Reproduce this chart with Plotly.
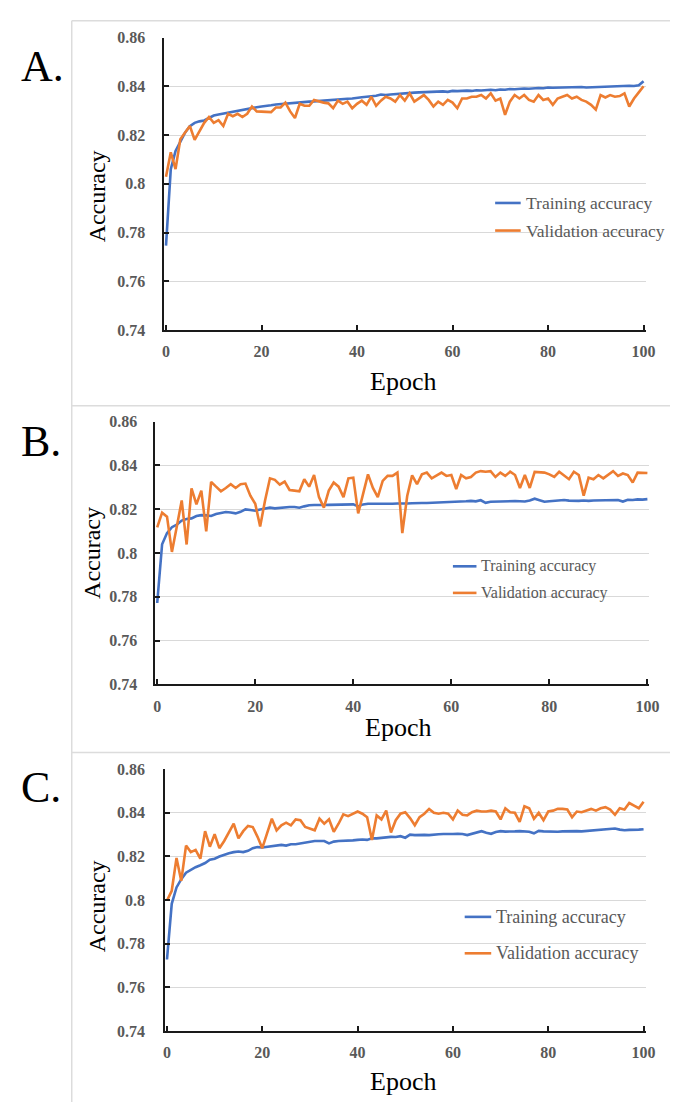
import plotly.graph_objects as go

# ---------------- data ----------------
epochs = list(range(101))

train_a = [0.7746, 0.806, 0.8135, 0.8176, 0.821, 0.8236, 0.825, 0.8256, 0.826, 0.827,
           0.828, 0.8284, 0.8288, 0.8293, 0.8296, 0.83, 0.8302, 0.8306, 0.831, 0.8314,
           0.8317, 0.8318, 0.8322, 0.8325, 0.8327, 0.8328, 0.8329, 0.8331, 0.8332, 0.8335,
           0.8337, 0.8338, 0.834, 0.8341, 0.8343, 0.8344, 0.8346, 0.8347, 0.8349, 0.835,
           0.8354, 0.8355, 0.8357, 0.8358, 0.8361, 0.8366, 0.8364, 0.8366, 0.8368, 0.837,
           0.8373, 0.8372, 0.8374, 0.8375, 0.8376, 0.8377, 0.8376, 0.8378, 0.8379, 0.8377,
           0.8381, 0.838, 0.8382, 0.8382, 0.8381, 0.8384, 0.8383, 0.8385, 0.8386, 0.8384,
           0.8387, 0.8386, 0.8389, 0.8388, 0.839, 0.8391, 0.839, 0.8392, 0.8393, 0.8392,
           0.8395, 0.8394, 0.8395, 0.8394, 0.8396, 0.8395, 0.8396, 0.8397, 0.8395, 0.8396,
           0.8397, 0.8398, 0.8397, 0.8399, 0.84, 0.8399, 0.8401, 0.8402, 0.8401, 0.8404,
           0.8421]

val_a = [0.8029, 0.8129, 0.806, 0.8183, 0.821, 0.8237, 0.818, 0.8216, 0.825, 0.8274,
         0.825, 0.8261, 0.8237, 0.8287, 0.8277, 0.8287, 0.8274, 0.8287, 0.8317, 0.8297,
         0.8297, 0.8297, 0.8294, 0.8313, 0.8313, 0.8333, 0.8297, 0.827, 0.8328, 0.832,
         0.832, 0.8344, 0.8337, 0.8333, 0.833, 0.831, 0.8341, 0.8328, 0.8337, 0.831,
         0.8328, 0.8341, 0.8324, 0.8357, 0.832, 0.8341, 0.8357, 0.835, 0.8337, 0.8364,
         0.8341, 0.8371, 0.8337, 0.835, 0.8364, 0.8344, 0.8317, 0.8337, 0.8324, 0.8344,
         0.8333, 0.831, 0.835, 0.835, 0.8357, 0.8357, 0.8364, 0.835, 0.8371, 0.8341,
         0.835, 0.8283, 0.8337, 0.8364, 0.835, 0.8364, 0.8344, 0.8337, 0.8364, 0.8344,
         0.835, 0.8324, 0.835, 0.8357, 0.8364, 0.835, 0.8357, 0.8344, 0.8337, 0.8324,
         0.8304, 0.8364, 0.8354, 0.8364, 0.8357, 0.836, 0.8371, 0.8317, 0.835, 0.8375,
         0.84]

train_b = [0.7772, 0.804, 0.8091, 0.8118, 0.8129, 0.8148, 0.8155, 0.8158, 0.8169, 0.8173,
           0.8172, 0.8169, 0.8178, 0.8184, 0.8187, 0.8185, 0.8181, 0.8188, 0.8199, 0.8196,
           0.8193, 0.8199, 0.8203, 0.8207, 0.8204, 0.8207, 0.8207, 0.821, 0.821, 0.8207,
           0.8213, 0.8218, 0.8219, 0.8218, 0.8219, 0.822, 0.8221, 0.8222, 0.8222, 0.8221,
           0.8222, 0.8213, 0.8222, 0.8225, 0.8225, 0.8222, 0.8222, 0.8224, 0.8225, 0.8226,
           0.8225, 0.8226, 0.8227, 0.8226, 0.8228, 0.8228, 0.8229, 0.8228, 0.823, 0.8229,
           0.8231, 0.8233, 0.8235, 0.8236, 0.8238, 0.8236, 0.8241, 0.8229, 0.8234, 0.8235,
           0.8236, 0.8237, 0.8238, 0.8237, 0.8236, 0.8235, 0.824, 0.8248, 0.8241, 0.8234,
           0.8236, 0.8239, 0.8241, 0.8242, 0.8239, 0.8237, 0.8238, 0.824, 0.8238, 0.824,
           0.8241, 0.824, 0.8242, 0.8243, 0.8242, 0.8235, 0.8243, 0.8242, 0.8245, 0.8244,
           0.8246]

val_b = [0.8117, 0.8184, 0.8166, 0.8005, 0.8121, 0.824, 0.8039, 0.8295, 0.8222, 0.8285,
         0.8099, 0.8325, 0.8303, 0.8282, 0.8297, 0.8314, 0.8297, 0.8314, 0.8317, 0.8262,
         0.8225, 0.8121, 0.824, 0.8341, 0.8334, 0.8312, 0.8326, 0.8288, 0.8285, 0.8282,
         0.8337, 0.8303, 0.8356, 0.8255, 0.8207, 0.8285, 0.8322, 0.8303, 0.8255, 0.8341,
         0.8344, 0.8181, 0.827, 0.8359, 0.8297, 0.8255, 0.8329, 0.8352, 0.8352, 0.8367,
         0.8091, 0.826, 0.8355, 0.8314, 0.8359, 0.8367, 0.8341, 0.8356, 0.8367, 0.8352,
         0.8356, 0.8292, 0.8356, 0.8341, 0.8347, 0.8367, 0.8374, 0.8371, 0.8374, 0.8347,
         0.8367, 0.8352, 0.8371, 0.8356, 0.8297, 0.8356, 0.8297, 0.837, 0.8367, 0.8367,
         0.8359, 0.8347, 0.8371, 0.8356, 0.8337, 0.8371, 0.8356, 0.8262, 0.8344, 0.8337,
         0.8356, 0.8341, 0.8356, 0.8374, 0.8352, 0.8363, 0.8356, 0.8322, 0.8367, 0.8367,
         0.8365]

train_c = [0.7728, 0.7983, 0.8058, 0.8096, 0.8126, 0.814, 0.8151, 0.816, 0.817, 0.8185,
           0.819, 0.82, 0.8208, 0.8215, 0.822, 0.8223, 0.822, 0.8226, 0.8238, 0.8243,
           0.8241, 0.8244, 0.8247, 0.825, 0.8253, 0.825, 0.8256, 0.8256, 0.826, 0.8263,
           0.8265, 0.8271, 0.8271, 0.8271, 0.826, 0.8268, 0.8271, 0.8271, 0.8271, 0.8274,
           0.8276, 0.8278, 0.8276, 0.8283, 0.8283, 0.8286, 0.8287, 0.829, 0.8289, 0.8293,
           0.8286, 0.83, 0.8298, 0.83, 0.8299, 0.8298, 0.8301, 0.8302, 0.8303, 0.8302,
           0.8303, 0.8304, 0.8303, 0.8298, 0.8305, 0.831, 0.8316, 0.8309, 0.8304, 0.8312,
           0.8316, 0.8314, 0.8316, 0.8315, 0.8316, 0.8314, 0.8313, 0.8306, 0.8317, 0.8315,
           0.8314, 0.8316, 0.8313, 0.8315, 0.8316, 0.8317, 0.8316, 0.8315, 0.8317, 0.8318,
           0.8319, 0.832, 0.8322, 0.8326, 0.8328, 0.8323, 0.832, 0.8322, 0.8321, 0.8323,
           0.8325]

val_c = [0.7998, 0.8043, 0.8193, 0.8088, 0.825, 0.822, 0.823, 0.819, 0.8316, 0.8245,
         0.8302, 0.8238, 0.8271, 0.8313, 0.835, 0.8283, 0.8316, 0.834, 0.8335, 0.829,
         0.8238, 0.8306, 0.8373, 0.832, 0.8343, 0.8355, 0.8343, 0.837, 0.8366, 0.8335,
         0.8328, 0.832, 0.8373, 0.835, 0.837, 0.8313, 0.835, 0.8393, 0.8385, 0.8396,
         0.8406, 0.8396, 0.838, 0.8276, 0.8388, 0.837, 0.841, 0.831, 0.8366, 0.8396,
         0.8403, 0.8376, 0.8343, 0.838, 0.8396, 0.8418, 0.84, 0.8396, 0.84, 0.8396,
         0.837, 0.841, 0.8391, 0.8388, 0.8403, 0.841, 0.8406, 0.8406, 0.841, 0.8406,
         0.837, 0.8421, 0.8403, 0.84, 0.8358, 0.843, 0.8421, 0.8373, 0.84, 0.8366,
         0.8406, 0.841, 0.8418, 0.8418, 0.8415, 0.838, 0.8406, 0.8403, 0.841, 0.8418,
         0.841, 0.8421, 0.8426, 0.8415, 0.8391, 0.8421, 0.8415, 0.8445, 0.8433, 0.8421,
         0.8451]

panel_labels = ["A.", "B.", "C."]
series_names = ["Training accuracy", "Validation accuracy"]
x_ticks = [0, 20, 40, 60, 80, 100]
y_ticks = [0.74, 0.76, 0.78, 0.80, 0.82, 0.84, 0.86]
y_tick_text = ["0.74", "0.76", "0.78", "0.8", "0.82", "0.84", "0.86"]
x_title = "Epoch"
y_title = "Accuracy"

# ---------------- layout helpers ----------------
W, H = 680, 1111
BLUE = "#4472C4"
ORANGE = "#ED7D31"
FONT = "Liberation Serif"
TICKCOL = "#595959"


def px(x):
    return x / W


def py(y):
    return 1 - y / H


panels = [
    dict(train=train_a, val=val_a, xl=165, xr=656, xrange=[-0.4, 100.6], yt=30, yb=327,
         leg_x0=502, leg_x1=528, leg_y=[198, 226], leg_size=17.5,
         ylab_x=97, ylab_y=191, xlab_y=379, letter_y=59, ystand=14),
    dict(train=train_b, val=val_b, xl=156, xr=659, xrange=[-0.4, 100.4], yt=420, yb=687,
         leg_x0=459, leg_x1=483, leg_y=[567, 594], leg_size=16,
         ylab_x=91, ylab_y=553, xlab_y=731, letter_y=440, ystand=13),
    dict(train=train_c, val=val_c, xl=166, xr=656, xrange=[-0.4, 100.6], yt=773, yb=1039,
         leg_x0=471, leg_x1=498, leg_y=[923, 960], leg_size=18,
         ylab_x=97, ylab_y=912, xlab_y=1090, letter_y=792, ystand=15),
]

fig = go.Figure()
shapes = []
annotations = []

FRAME = "#DCDCDC"
shapes.append(dict(type="line", xref="paper", yref="paper", x0=px(71), x1=px(71),
                   y0=py(13), y1=py(1111), line=dict(color=FRAME, width=1.5)))
for yy in [13, 404, 756]:
    shapes.append(dict(type="line", xref="paper", yref="paper", x0=px(71), x1=1,
                       y0=py(yy), y1=py(yy), line=dict(color=FRAME, width=1.5)))

for i, p in enumerate(panels):
    n = "" if i == 0 else str(i + 1)
    xa, ya = "x" + n, "y" + n
    for vals, col, name in [(p["train"], BLUE, series_names[0]), (p["val"], ORANGE, series_names[1])]:
        fig.add_trace(go.Scatter(x=epochs, y=vals, mode="lines", name=name,
                                 line=dict(color=col, width=2.6), xaxis=xa, yaxis=ya,
                                 showlegend=False))
    fig.layout["xaxis" + n] = dict(
        domain=[px(p["xl"]), px(p["xr"])], range=p["xrange"], anchor=ya,
        tickvals=x_ticks, showgrid=False, zeroline=False,
        showline=True, linecolor="#1a1a1a", linewidth=2,
        ticks="inside", ticklen=5, tickwidth=1.5, tickcolor="#1a1a1a",
        ticklabelstandoff=6,
        tickfont=dict(family=FONT, size=16, color=TICKCOL, weight="bold"),
    )
    fig.layout["yaxis" + n] = dict(
        domain=[py(p["yb"]), py(p["yt"])], range=[0.74, 0.86], anchor=xa,
        tickvals=y_ticks, ticktext=y_tick_text,
        showgrid=True, gridcolor="#D9D9D9", gridwidth=1, zeroline=False,
        showline=True, linecolor="#1a1a1a", linewidth=1.5,
        ticks="inside", ticklen=5, tickwidth=1.5, tickcolor="#1a1a1a",
        ticklabelstandoff=p["ystand"],
        tickfont=dict(family=FONT, size=16, color=TICKCOL, weight="bold"),
    )
    for ly, col, name in zip(p["leg_y"], [BLUE, ORANGE], series_names):
        shapes.append(dict(type="line", xref="paper", yref="paper",
                           x0=px(p["leg_x0"]), x1=px(p["leg_x1"]), y0=py(ly), y1=py(ly),
                           line=dict(color=col, width=2.6)))
        annotations.append(dict(xref="paper", yref="paper", x=px(p["leg_x1"] + 3), y=py(ly),
                                text=name, showarrow=False, xanchor="left", yanchor="middle",
                                font=dict(family=FONT, size=p["leg_size"], color=TICKCOL)))
    annotations.append(dict(xref="paper", yref="paper", x=px((p["xl"] + 651) / 2), y=py(p["xlab_y"]),
                            text=x_title, showarrow=False, xanchor="center", yanchor="middle",
                            font=dict(family=FONT, size=26, color="black")))
    annotations.append(dict(xref="paper", yref="paper", x=px(p["ylab_x"]), y=py(p["ylab_y"]),
                            text=y_title, showarrow=False, xanchor="center", yanchor="middle",
                            textangle=-90, font=dict(family=FONT, size=24, color="black")))
    annotations.append(dict(xref="paper", yref="paper", x=px(17), y=py(p["letter_y"]),
                            text=panel_labels[i], showarrow=False, xanchor="left", yanchor="middle",
                            font=dict(family=FONT, size=44, color="black")))

fig.update_layout(width=W, height=H, autosize=False,
                  margin=dict(l=0, r=0, t=0, b=0, pad=0),
                  paper_bgcolor="white", plot_bgcolor="white",
                  shapes=shapes, annotations=annotations, showlegend=False)

# remove the browser's default 8px body margin so the figure fills the window exactly
fig.write_html("out.html",
               config={"displayModeBar": False},
               post_script="document.body.style.margin='0';"
                           "document.body.style.overflow='hidden';"
                           "document.documentElement.style.overflow='hidden';")
